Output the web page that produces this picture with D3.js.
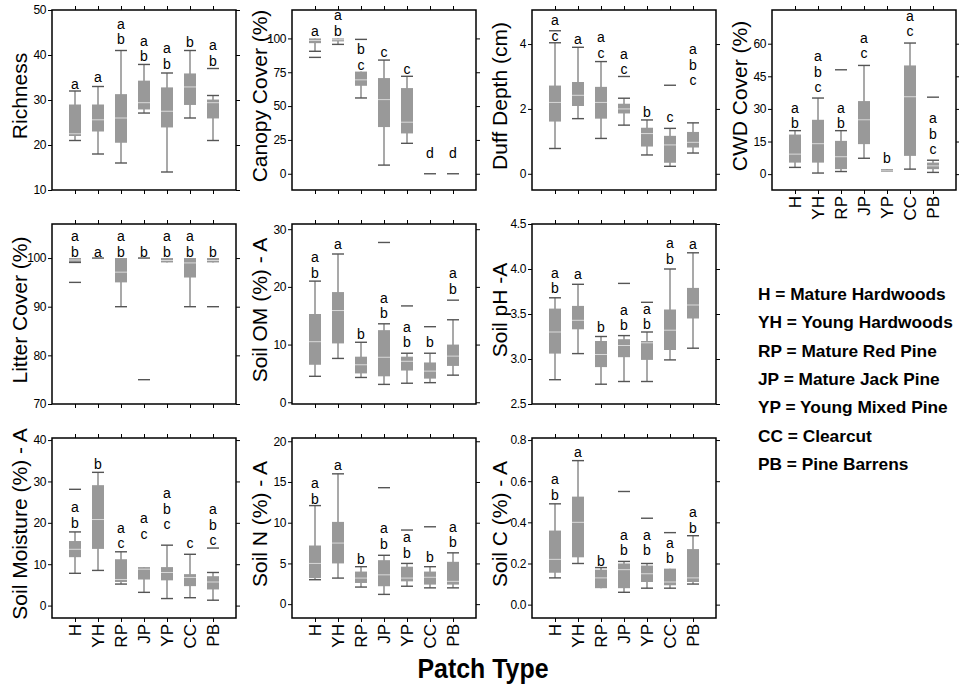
<!DOCTYPE html>
<html>
<head>
<meta charset="utf-8">
<script src="https://cdn.jsdelivr.net/npm/d3@7"></script>
<style>
body { margin: 0; background: #fff; }
svg { font-family: "Liberation Sans", Arial, Helvetica, sans-serif; }
.axis text { font-size: 12px; letter-spacing: -0.4px; fill: #000; }
.axis line { stroke: #000; }
</style>
</head>
<body>
<div id="chart"></div>
<script>
const cats = ["H", "YH", "RP", "JP", "YP", "CC", "PB"];

// each row: low whisker, q1, median, q3, high whisker, outliers, letters, letter baseline value
const richness = [
    [21, 22, 22.5, 29, 32, [], "a", 32.5],
    [18, 23, 25.6, 29, 33, [], "a", 34],
    [16, 20.5, 26, 31.3, 41, [], "ab", 42.4],
    [27.1, 27.9, 29.4, 34.3, 37.9, [], "ab", 38.6],
    [14, 23.9, 27.5, 32.8, 36, [], "ab", 36.9],
    [26, 28.9, 32.9, 35.9, 41, [], "b", 41.8],
    [21, 25.9, 29.4, 30.1, 31, [37], "ab", 37.6]
];
const canopy = [
    [90.5, 96.5, 98.5, 100, 100, [86], "a", 102],
    [95.6, 97.8, 99, 100, 100, [], "ab", 102],
    [56, 65, 69.4, 75.5, 75.5, [99.3], "bc", 77],
    [6.4, 34.5, 54.8, 70.7, 84, [], "c", 86.5],
    [22.5, 29.8, 38.1, 63.3, 72, [], "c", 74],
    [0, 0, 0, 0, 0, [], "d", 12],
    [0, 0, 0, 0, 0, [], "d", 12]
];
const duff = [
    [0.78, 1.61, 2.2, 2.72, 4.04, [4.41], "ac", 4.1],
    [1.7, 2.09, 2.42, 2.83, 3.9, [], "a", 4.0],
    [1.09, 1.7, 2.2, 2.68, 3.46, [], "ac", 3.58],
    [1.5, 1.86, 2.0, 2.16, 2.33, [3.0], "ac", 3.07],
    [0.58, 0.84, 1.24, 1.42, 1.66, [], "b", 1.76],
    [0.23, 0.34, 0.89, 1.17, 1.4, [2.73], "c", 1.61],
    [0.64, 0.81, 0.97, 1.29, 1.57, [], "abc", 2.73]
];
const cwd = [
    [3.1, 5.3, 9.2, 18.2, 20, [], "ab", 21],
    [0.5, 5.3, 14, 25, 35, [], "abc", 37.7],
    [1.2, 2.3, 8, 15.3, 20, [48], "ab", 21],
    [7.3, 13.8, 25, 33.6, 50, [], "ac", 53.4],
    [1, 1, 1.5, 2.3, 2.3, [], "b", 4.9],
    [2.3, 8.4, 35.6, 50, 60.3, [], "ac", 63.4],
    [0.8, 2.3, 3.8, 5.3, 6.4, [35.4], "abc", 9.2]
];
const litter = [
    [99.1, 99.2, 99.6, 100, 100, [95], "ab", 100.3],
    [100, 100, 100, 100, 100, [], "a", 100.3],
    [90, 95, 97.1, 100, 100, [], "ab", 100.3],
    [100, 100, 100, 100, 100, [75], "b", 100.3],
    [99.1, 99.1, 99.5, 100, 100, [], "ab", 100.3],
    [90, 96, 99, 100, 100, [], "ab", 100.3],
    [99.1, 99.1, 99.5, 100, 100, [90], "b", 100.3]
];
const soilOM = [
    [4.5, 6.5, 10.5, 15.3, 21, [], "ab", 21.6],
    [7.6, 10.2, 15.9, 19.1, 25.7, [], "a", 26.5],
    [4.3, 5, 6.5, 7.9, 10.4, [], "b", 11],
    [3.1, 4.5, 7.8, 12.5, 13.6, [27.7], "ab", 14.6],
    [3.3, 5.5, 7.1, 7.9, 8.5, [16.7], "ab", 9.5],
    [3.4, 4.1, 5.4, 6.9, 8.5, [13.1], "b", 9.5],
    [4.7, 6.3, 8, 10, 14.3, [17.7], "ab", 18.8]
];
const soilPH = [
    [2.77, 3.06, 3.3, 3.56, 3.68, [], "ab", 3.73],
    [3.06, 3.33, 3.43, 3.59, 3.83, [], "a", 3.89],
    [2.72, 2.91, 3.05, 3.2, 3.25, [], "b", 3.3],
    [2.75, 3.02, 3.15, 3.22, 3.26, [3.84], "ab", 3.32],
    [2.75, 2.99, 3.18, 3.2, 3.3, [3.63], "ab", 3.33],
    [2.99, 3.1, 3.32, 3.55, 4.0, [], "ab", 4.06],
    [3.12, 3.45, 3.6, 3.79, 4.18, [], "a", 4.22]
];
const moisture = [
    [7.8, 11.7, 13.6, 15.6, 17.8, [28.1], "ab", 18.8],
    [8.5, 13.7, 20.8, 29.1, 32.2, [], "b", 33],
    [5.2, 5.7, 6.3, 11.2, 13, [], "ac", 13.9],
    [3.2, 6.3, 8.8, 9.3, 9.3, [], "ac", 16.2],
    [1.7, 6.1, 8, 9.3, 14.6, [], "abc", 18.5],
    [1.9, 4.7, 6.8, 7.6, 12.4, [], "c", 13.9],
    [1.3, 3.9, 5.7, 7.1, 8, [13.9], "abc", 14.6]
];
const soilN = [
    [3, 3.2, 5, 7.2, 12.1, [], "ab", 12.3],
    [3.2, 5, 7.5, 10.1, 16, [], "a", 16.5],
    [2.1, 2.6, 3.2, 4, 4.6, [], "b", 4.9],
    [1.2, 2.2, 3.6, 5.4, 6, [14.3], "ab", 6.8],
    [2.2, 2.8, 3.2, 4.6, 5, [9.1], "ab", 5.7],
    [2, 2.4, 3.3, 4, 4.6, [9.5], "b", 5.2],
    [2, 2.4, 2.8, 5.2, 6.3, [], "ab", 7]
];
const soilC = [
    [0.13, 0.155, 0.22, 0.36, 0.49, [], "ab", 0.51],
    [0.2, 0.23, 0.4, 0.525, 0.7, [], "a", 0.72],
    [0.08, 0.08, 0.13, 0.17, 0.18, [], "b", 0.19],
    [0.06, 0.08, 0.17, 0.2, 0.21, [0.55], "ab", 0.24],
    [0.08, 0.11, 0.15, 0.19, 0.2, [0.42], "ab", 0.24],
    [0.08, 0.094, 0.11, 0.175, 0.175, [0.35], "ab", 0.2],
    [0.1, 0.11, 0.13, 0.27, 0.335, [], "ab", 0.35]
];

const legendItems = [
    "H = Mature Hardwoods",
    "YH = Young Hardwoods",
    "RP = Mature Red Pine",
    "JP = Mature Jack Pine",
    "YP = Young Mixed Pine",
    "CC = Clearcut",
    "PB = Pine Barrens"
];

const intFmt = d3.format("d"), decFmt = d3.format(".1f");

const panels = [
    {label: "Richness", rows: richness, col: 0, row: 0, domain: [10, 50], ticks: [10, 20, 30, 40, 50], fmt: intFmt},
    {label: "Canopy Cover (%)", rows: canopy, col: 1, row: 0, domain: [-12, 121], ticks: [0, 25, 50, 75, 100], fmt: intFmt},
    {label: "Duff Depth (cm)", rows: duff, col: 2, row: 0, domain: [-0.5, 5.05], ticks: [0, 2, 4], fmt: intFmt},
    {label: "CWD Cover (%)", rows: cwd, col: 3, row: 0, domain: [-7.3, 75.5], ticks: [0, 15, 30, 45, 60], fmt: intFmt, xlab: true},
    {label: "Litter Cover (%)", rows: litter, col: 0, row: 1, domain: [70, 107], ticks: [70, 80, 90, 100], fmt: intFmt},
    {label: "Soil OM (%) - A", rows: soilOM, col: 1, row: 1, domain: [-0.3, 30.9], ticks: [0, 10, 20, 30], fmt: intFmt},
    {label: "Soil pH -A", rows: soilPH, col: 2, row: 1, domain: [2.5, 4.5], ticks: [2.5, 3.0, 3.5, 4.0, 4.5], fmt: decFmt},
    {label: "Soil Moisture (%) - A", rows: moisture, col: 0, row: 2, domain: [-3, 40.5], ticks: [0, 10, 20, 30, 40], fmt: intFmt, xlab: true},
    {label: "Soil N (%) - A", rows: soilN, col: 1, row: 2, domain: [-1.7, 20.4], ticks: [0, 5, 10, 15, 20], fmt: intFmt, xlab: true},
    {label: "Soil C (%) - A", rows: soilC, col: 2, row: 2, domain: [-0.065, 0.81], ticks: [0.0, 0.2, 0.4, 0.6, 0.8], fmt: decFmt, xlab: true}
];

const W = 184, H = 180;
const colX = [52, 292, 532, 772], rowY = [10, 224, 438];
const boxW = 12;

const svg = d3.select("#chart")
    .append("svg")
    .attr("width", 959)
    .attr("height", 687);

panels.forEach(function(p) {
    const g = svg.append("g")
        .attr("transform", "translate(" + colX[p.col] + "," + rowY[p.row] + ")");

    const x = d3.scaleLinear().domain([0, 8]).range([0, W]);
    const y = d3.scaleLinear().domain(p.domain).range([H, 0]);
    const pos = d3.range(1, 8);

    // axes on four sides, ticks outward
    g.append("g").attr("class", "axis")
        .call(d3.axisLeft(y).tickValues(p.ticks).tickSize(4).tickPadding(2).tickFormat(p.fmt));
    g.append("g").attr("class", "axis")
        .attr("transform", "translate(" + W + ",0)")
        .call(d3.axisRight(y).tickValues(p.ticks).tickSize(4).tickFormat(""));
    g.append("g").attr("class", "axis")
        .call(d3.axisTop(x).tickValues(pos).tickSize(4).tickFormat(""));
    const xb = g.append("g").attr("class", "axis")
        .attr("transform", "translate(0," + H + ")")
        .call(d3.axisBottom(x).tickValues(pos).tickSize(4)
            .tickFormat(p.xlab ? function(i) { return cats[i - 1]; } : ""));
    xb.selectAll("text")
        .attr("transform", "rotate(-90)")
        .attr("x", -6)
        .attr("y", 0)
        .attr("dy", "0.35em")
        .attr("text-anchor", "end")
        .style("font-size", "17px")
        .style("letter-spacing", "0px");
    g.selectAll(".domain").remove();

    /* boxes */
    const grp = g.selectAll(".grp")
        .data(p.rows)
        .enter().append("g")
        .attr("class", "grp")
        .attr("transform", function(d, i) { return "translate(" + x(i + 1) + ",0)"; });

    grp.append("line")
        .attr("y1", function(d) { return y(d[0]); })
        .attr("y2", function(d) { return y(d[4]); })
        .attr("stroke", "#8c8c8c")
        .attr("stroke-width", 1.5);

    grp.append("rect")
        .attr("x", -boxW / 2)
        .attr("width", boxW)
        .attr("y", function(d) { return y(d[3]); })
        .attr("height", function(d) { return y(d[1]) - y(d[3]); })
        .attr("fill", "#999");

    grp.filter(function(d) { return d[3] > d[1]; })
        .append("line")
        .attr("x1", -boxW / 2).attr("x2", boxW / 2)
        .attr("y1", function(d) { return y(d[2]); })
        .attr("y2", function(d) { return y(d[2]); })
        .attr("stroke", "#d9d9d9")
        .attr("stroke-width", 1);

    // whisker caps (and flat boxes drawn as a dash)
    grp.each(function(d) {
        const s = d3.select(this);
        const caps = [];
        if (d[4] > d[3]) caps.push(d[4]);
        if (d[0] < d[1]) caps.push(d[0]);
        if (d[3] === d[1]) caps.push(d[3]);
        d[5].forEach(function(o) { caps.push(o); });
        s.selectAll(".cap")
            .data(caps)
            .enter().append("line")
            .attr("class", "cap")
            .attr("x1", -boxW / 2).attr("x2", boxW / 2)
            .attr("y1", function(v) { return y(v); })
            .attr("y2", function(v) { return y(v); })
            .attr("stroke", "#555")
            .attr("stroke-width", 1.4);

        const letters = d[6].split("");
        s.selectAll(".sig")
            .data(letters)
            .enter().append("text")
            .attr("class", "sig")
            .attr("text-anchor", "middle")
            .attr("y", function(c, k) { return y(d[7]) - (letters.length - 1 - k) * 15.5; })
            .style("font-size", "14px")
            .text(function(c) { return c; });
    });

    g.append("rect")
        .attr("width", W)
        .attr("height", H)
        .attr("fill", "none")
        .attr("stroke", "#000")
        .attr("stroke-width", 1.5);

    g.append("text")
        .attr("transform", "translate(-25," + (H / 2 - 4) + ") rotate(-90)")
        .attr("text-anchor", "middle")
        .style("font-size", "21px")
        .text(p.label);
});

/* legend */
svg.append("g")
    .selectAll("text")
    .data(legendItems)
    .enter().append("text")
    .attr("x", 758)
    .attr("y", function(d, i) { return 300 + i * 28.3; })
    .style("font-size", "17.3px")
    .style("font-weight", "bold")
    .text(function(d) { return d; });

svg.append("text")
    .attr("x", 483)
    .attr("y", 678)
    .attr("text-anchor", "middle")
    .attr("textLength", 131)
    .attr("lengthAdjust", "spacingAndGlyphs")
    .style("font-size", "27px")
    .style("font-weight", "bold")
    .text("Patch Type");
</script>
</body>
</html>
